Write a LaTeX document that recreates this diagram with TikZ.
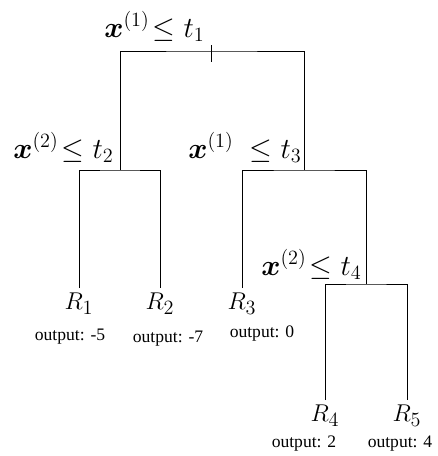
\documentclass[tikz,border=0pt]{standalone}
\usepackage{amsmath,bm}
\usepackage{fontspec}
\setmainfont{Liberation Serif}
\begin{document}
\begin{tikzpicture}[x=0.025cm,y=-0.025cm,line width=0.7pt,
        split/.style={font=\fontsize{20}{23}\selectfont, inner sep=0pt, anchor=south east},
        leaf/.style={font=\fontsize{19}{22}\selectfont, inner sep=3pt, anchor=north},
        output/.style={font=\fontsize{12.5}{15}\selectfont, inner sep=0pt}]
        \useasboundingbox (0,0) rectangle (438,456);

        % split points
        \coordinate (n1) at (211,51);
        \coordinate (n2) at (120,170);
        \coordinate (n3) at (304,170);
        \coordinate (n4) at (366,284);

        % split tests
        \node (t1) [split] at (205,42) {$\bm{x}^{(1)}\!\le t_1$};
        \node (t2) [split] at (114,163) {$\bm{x}^{(2)}\!\le t_2$};
        \node (t3) [split] at (302,163) {$\bm{x}^{(1)}\;\le t_3$};
        \node (t4) [split] at (362,280) {$\bm{x}^{(2)}\!\le t_4$};

        % leaves
        \node (r1) [leaf] at (79,288) {$R_1$};
        \node (r2) [leaf] at (160,288) {$R_2$};
        \node (r3) [leaf] at (242,288) {$R_3$};
        \node (r4) [leaf] at (325,400) {$R_4$};
        \node (r5) [leaf] at (407,400) {$R_5$};

        \node (o1) [output] at (70,337) {output: -5};
        \node (o2) [output] at (168,339) {output: -7};
        \node (o3) [output] at (262,334) {output: 0};
        \node (o4) [output] at (304,444) {output: 2};
        \node (o5) [output] at (400,444) {output: 4};

        \draw (n2) |- (n1) -| (n3);
        \draw (n1) +(0,-6) -- +(0,11);
        \draw (r1) |- (n2) -| (r2);
        \draw (r3) |- (n3) -| (n4);
        \draw (r4) |- (n4) -| (r5);
    \end{tikzpicture}
\end{document}
